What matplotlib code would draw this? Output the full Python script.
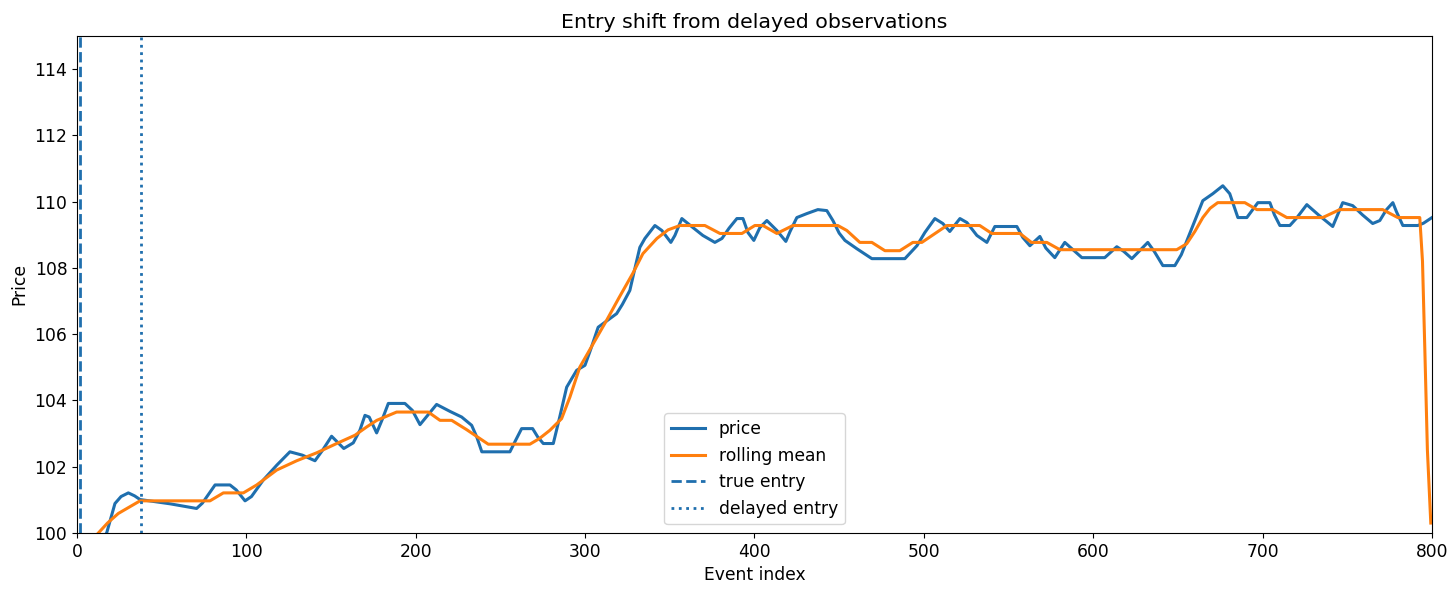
import numpy as np
import matplotlib.pyplot as plt

# price series (event index, price)
price_x = [0, 12, 17.5, 22.4, 26, 30.3, 34, 37.2, 55, 70.6, 74, 81.5, 90.3, 94, 99.2, 103,
           110, 118, 125.7, 133, 140.5, 145, 150.3, 157.5, 163.1, 167, 170, 172.5, 176.9, 180,
           183.8, 193.6, 198, 202.5, 207, 212.3, 220.2, 227.1, 233, 236, 239, 255.6, 259, 262.5,
           269, 272, 275.3, 281.2, 285, 289.1, 295, 299.9, 303, 307.7, 314.6, 318.6, 322, 326.4,
           329, 332.3, 335.3, 341.2, 345.3, 350.6, 353, 357.1, 363.6, 369.5, 376.6, 380.8, 385,
           389.6, 393.2, 396.1, 399.6, 403.2, 407.3, 413.2, 418.5, 421, 425, 430.9, 437.4, 442.7,
           446.3, 450, 453.4, 460.4, 469.3, 488.8, 495.9, 500.6, 506.5, 511.2, 515.3, 521.3,
           525.4, 531.3, 537.2, 541.9, 554.9, 558.4, 562.6, 568.5, 572, 577.3, 583.2, 588, 593.3,
           606.8, 613.9, 618, 622.8, 627, 632.2, 636, 641.1, 648.2, 652, 657, 664.7, 670.6, 676.5,
           680.6, 685.4, 690.7, 697.2, 704.3, 707, 710.2, 716.1, 720, 726.1, 733, 741.4, 747.3,
           753.2, 759, 765, 769.2, 773, 776.9, 779, 782.8, 791.6, 795, 800]
price_y = [98.8, 99.6, 100.0, 100.89, 101.1, 101.21, 101.12, 101.01, 100.88, 100.74, 100.9, 101.45,
           101.45, 101.3, 100.97, 101.1, 101.6, 102.05, 102.45, 102.35, 102.18, 102.5, 102.92,
           102.55, 102.72, 103.1, 103.55, 103.5, 103.02, 103.4, 103.91, 103.91, 103.7, 103.27,
           103.55, 103.88, 103.67, 103.5, 103.25, 102.9, 102.45, 102.45, 102.8, 103.15, 103.15,
           102.9, 102.7, 102.7, 103.5, 104.4, 104.91, 105.06, 105.5, 106.21, 106.47, 106.62,
           106.9, 107.32, 107.9, 108.62, 108.89, 109.28, 109.13, 108.77, 108.98, 109.49, 109.22,
           108.98, 108.77, 108.89, 109.2, 109.49, 109.49, 109.07, 108.83, 109.22, 109.43, 109.13,
           108.8, 109.1, 109.52, 109.64, 109.76, 109.73, 109.43, 109.05, 108.83, 108.58, 108.28,
           108.28, 108.67, 109.07, 109.49, 109.34, 109.1, 109.49, 109.37, 108.98, 108.77, 109.25,
           109.25, 108.92, 108.67, 108.95, 108.6, 108.31, 108.77, 108.55, 108.31, 108.31, 108.64,
           108.5, 108.28, 108.5, 108.77, 108.5, 108.07, 108.07, 108.4, 109.04, 110.03, 110.24,
           110.48, 110.24, 109.52, 109.52, 109.97, 109.97, 109.6, 109.28, 109.28, 109.5, 109.91,
           109.6, 109.25, 109.97, 109.88, 109.6, 109.34, 109.43, 109.75, 109.97, 109.7, 109.28,
           109.28, 109.35, 109.52]

# rolling mean (event index, value)
mean_x = [0, 12.6, 18, 24.4, 37.2, 78.5, 86.4, 98.2, 106.1, 117.9, 129.7, 141.5, 153.3, 164.1,
          171, 177, 188.7, 207.4, 214.3, 221.2, 230, 242.8, 267.4, 273, 279.2, 286.1, 291, 296.9,
          312.7, 320, 328.3, 334.1, 342.4, 349, 356, 370.7, 379.6, 392.6, 400.2, 405, 413.2,
          422.7, 449.2, 454.5, 462.2, 469.3, 477, 485.8, 493.5, 498.8, 513.6, 533, 540.1, 556.7,
          563.5, 572.6, 580.3, 649.3, 655.2, 660, 664.7, 669, 673.5, 689.5, 696.6, 706, 714.3,
          735.5, 745.5, 770.9, 779.8, 792.8, 794.4, 795.8, 797.3, 799.3]
mean_y = [99.3, 100.0, 100.3, 100.59, 100.97, 100.97, 101.21, 101.21, 101.45, 101.9, 102.18,
          102.42, 102.7, 102.95, 103.2, 103.4, 103.65, 103.65, 103.4, 103.4, 103.12, 102.68,
          102.68, 102.85, 103.1, 103.45, 104.1, 105.01, 106.42, 107.1, 107.85, 108.43, 108.89,
          109.15, 109.28, 109.28, 109.04, 109.04, 109.28, 109.28, 109.04, 109.28, 109.28, 109.13,
          108.77, 108.77, 108.52, 108.52, 108.77, 108.77, 109.28, 109.28, 109.04, 109.04, 108.77,
          108.77, 108.55, 108.55, 108.73, 109.1, 109.52, 109.8, 109.97, 109.97, 109.76, 109.76,
          109.52, 109.52, 109.76, 109.76, 109.52, 109.52, 108.2, 105.5, 102.5, 100.3]

true_entry = 2
delayed_entry = 38

plt.rcParams['font.size'] = 12.3

fig = plt.figure(figsize=(14.56, 5.89), dpi=100)
ax = fig.add_axes([0.0529, 0.0951, 0.9306, 0.8438])

blue = '#1f6fae'
ax.plot(price_x, price_y, color=blue, lw=2.2, solid_joinstyle='round', label='price')
ax.plot(mean_x, mean_y, color='#ff7f0e', lw=2.2, solid_joinstyle='round', label='rolling mean')
ax.axvline(true_entry, color=blue, ls='--', lw=2, label='true entry')
ax.axvline(delayed_entry, color=blue, ls=':', lw=2, label='delayed entry')

ax.set_xlim(0, 800)
ax.set_ylim(100, 115)
ax.set_yticks(np.arange(100, 115, 2))
ax.set_xlabel('Event index')
ax.set_ylabel('Price')
ax.set_title('Entry shift from delayed observations')
ax.legend(loc='lower center')

fig.savefig('out.png', dpi=100)
